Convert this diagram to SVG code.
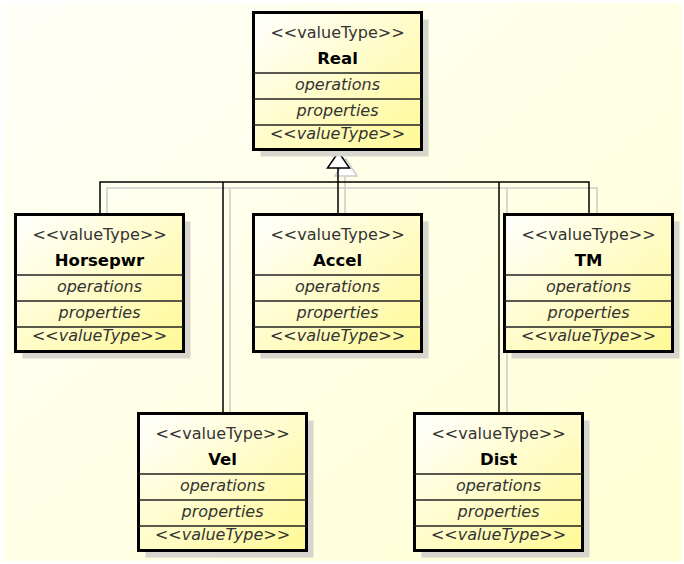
<svg xmlns="http://www.w3.org/2000/svg" width="684" height="564" viewBox="0 0 684 564">
<defs>
<linearGradient id="bg" x1="0" y1="0" x2="1" y2="1">
<stop offset="0" stop-color="#FFFFF8"/>
<stop offset="1" stop-color="#FFFFD4"/>
</linearGradient>
<linearGradient id="boxfill" x1="0" y1="0" x2="1" y2="1">
<stop offset="0" stop-color="#FFFFFF"/>
<stop offset="1" stop-color="#FFF994"/>
</linearGradient>
<g id="cls">
<rect x="8.5" y="8.5" width="168" height="137" fill="#D6D6CE" stroke="none"/>
<rect x="1.5" y="1.5" width="168" height="137" fill="url(#boxfill)" stroke="#000" stroke-width="3"/>
<line x1="1.5" y1="62" x2="169.5" y2="62" class="div"/>
<line x1="1.5" y1="88" x2="169.5" y2="88" class="div"/>
<line x1="1.5" y1="114" x2="169.5" y2="114" class="div"/>
<text x="85.5" y="26.5" class="st">&lt;&lt;valueType&gt;&gt;</text>
<text x="85.5" y="79" class="it">operations</text>
<text x="85.5" y="105" class="it">properties</text>
<text x="85.5" y="128" class="it">&lt;&lt;valueType&gt;&gt;</text>
</g>
</defs>
<style>
.div{stroke:#222;stroke-width:1.5}
.st{font-family:"DejaVu Sans",sans-serif;font-size:16px;fill:#333;text-anchor:middle}
.it{font-family:"DejaVu Sans",sans-serif;font-size:16px;font-style:italic;fill:#333;text-anchor:middle}
.nm{font-family:"DejaVu Sans",sans-serif;font-size:16.5px;font-weight:bold;fill:#000;text-anchor:middle}
.sh{stroke:#CCCCCC;stroke-width:1.5;fill:none}
.ln{stroke:#000;stroke-width:1.5;fill:none}
</style>
<rect x="4" y="3" width="678" height="558" rx="3" fill="url(#bg)"/>

<g id="connectors">
<g id="shadows">
<polygon points="346,159 335,176 357,176" fill="#FFFFFF" stroke="#CCCCCC" stroke-width="1.5"/>
<path class="sh" d="M345,176 V213 M107,213 V188 H597 V213 M230,188 V412 M507,188 V412"/>
</g>
<path class="ln" d="M338,168 V182 M100,213 V182 H589 V213 M223,182 V412 M338,182 V213 M499,182 V412"/>
<polygon points="338.5,152 327.5,168 349.5,168" fill="#FFFFFF" stroke="#000" stroke-width="1.5"/>
</g>

<g id="Real" transform="translate(252,11)">
<use href="#cls"/>
<text x="85.5" y="52.5" class="nm">Real</text>
</g>
<g id="Horsepwr" transform="translate(14,213)">
<use href="#cls"/>
<text x="85.5" y="52.5" class="nm">Horsepwr</text>
</g>
<g id="Accel" transform="translate(252,213)">
<use href="#cls"/>
<text x="85.5" y="52.5" class="nm">Accel</text>
</g>
<g id="TM" transform="translate(503,213)">
<use href="#cls"/>
<text x="85.5" y="52.5" class="nm">TM</text>
</g>
<g id="Vel" transform="translate(137,412)">
<use href="#cls"/>
<text x="85.5" y="52.5" class="nm">Vel</text>
</g>
<g id="Dist" transform="translate(413,412)">
<use href="#cls"/>
<text x="85.5" y="52.5" class="nm">Dist</text>
</g>
</svg>
